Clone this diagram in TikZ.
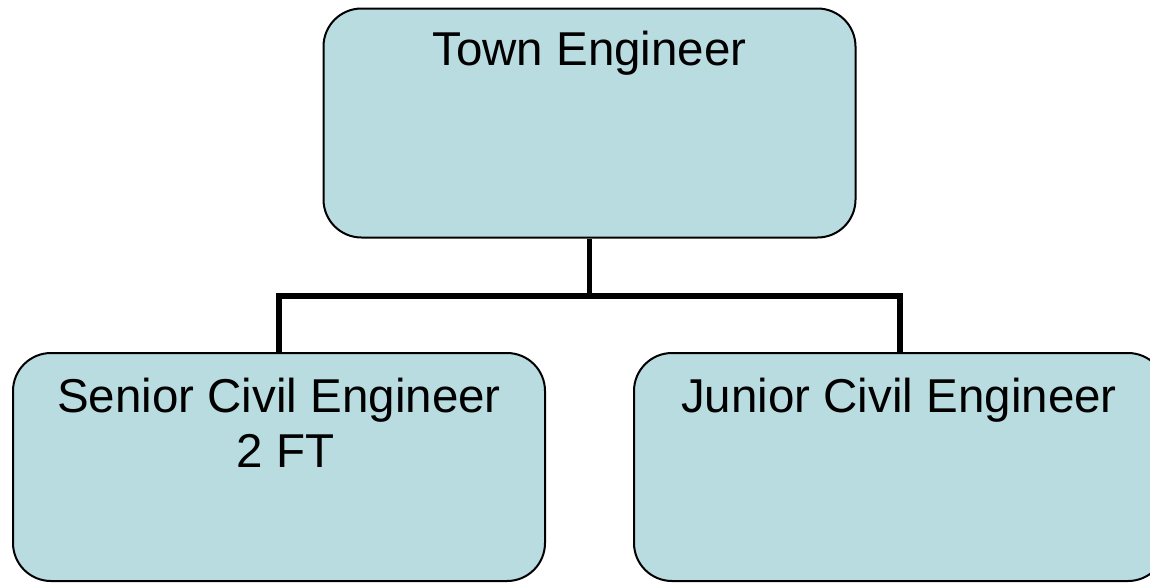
\documentclass[tikz,border=0pt]{standalone}
\usepackage{fontspec}
\setmainfont{Liberation Sans}
\definecolor{boxfill}{HTML}{B9DCE0}
\tikzset{
  orgbox/.style={draw=black, line width=2pt, fill=boxfill, rounded corners=38pt, minimum width=532pt, minimum height=229pt, inner sep=0pt},
  lbl/.style={font=\fontsize{47.5}{56}\selectfont, inner sep=0pt, anchor=base},
  conn/.style={draw=black, line width=5.5pt}
}
\begin{document}
\begin{tikzpicture}[x=1pt,y=-1pt]
\useasboundingbox (0,0) rectangle (1150,582);
\clip (0,0) rectangle (1150,582);
\node[orgbox] (top) at (589.5,123) {};
\node[orgbox, minimum height=228pt] (sen) at (279,467) {};
\node[orgbox, minimum height=228pt] (jun) at (900,467) {};
\coordinate (j) at (589.5,296);
\draw[conn] (top.south) -- (j);
\draw[conn] (sen.north) |- (j) -| (jun.north);
\node[lbl] (ttop) at (589.5,65) {Town Engineer};
\node[lbl] (tsen1) at (279,412) {Senior Civil Engineer};
\node[lbl] (tsen2) at (285.5,467) {2 FT};
\node[lbl] (tjun) at (899,412) {Junior Civil Engineer};
\end{tikzpicture}
\end{document}
